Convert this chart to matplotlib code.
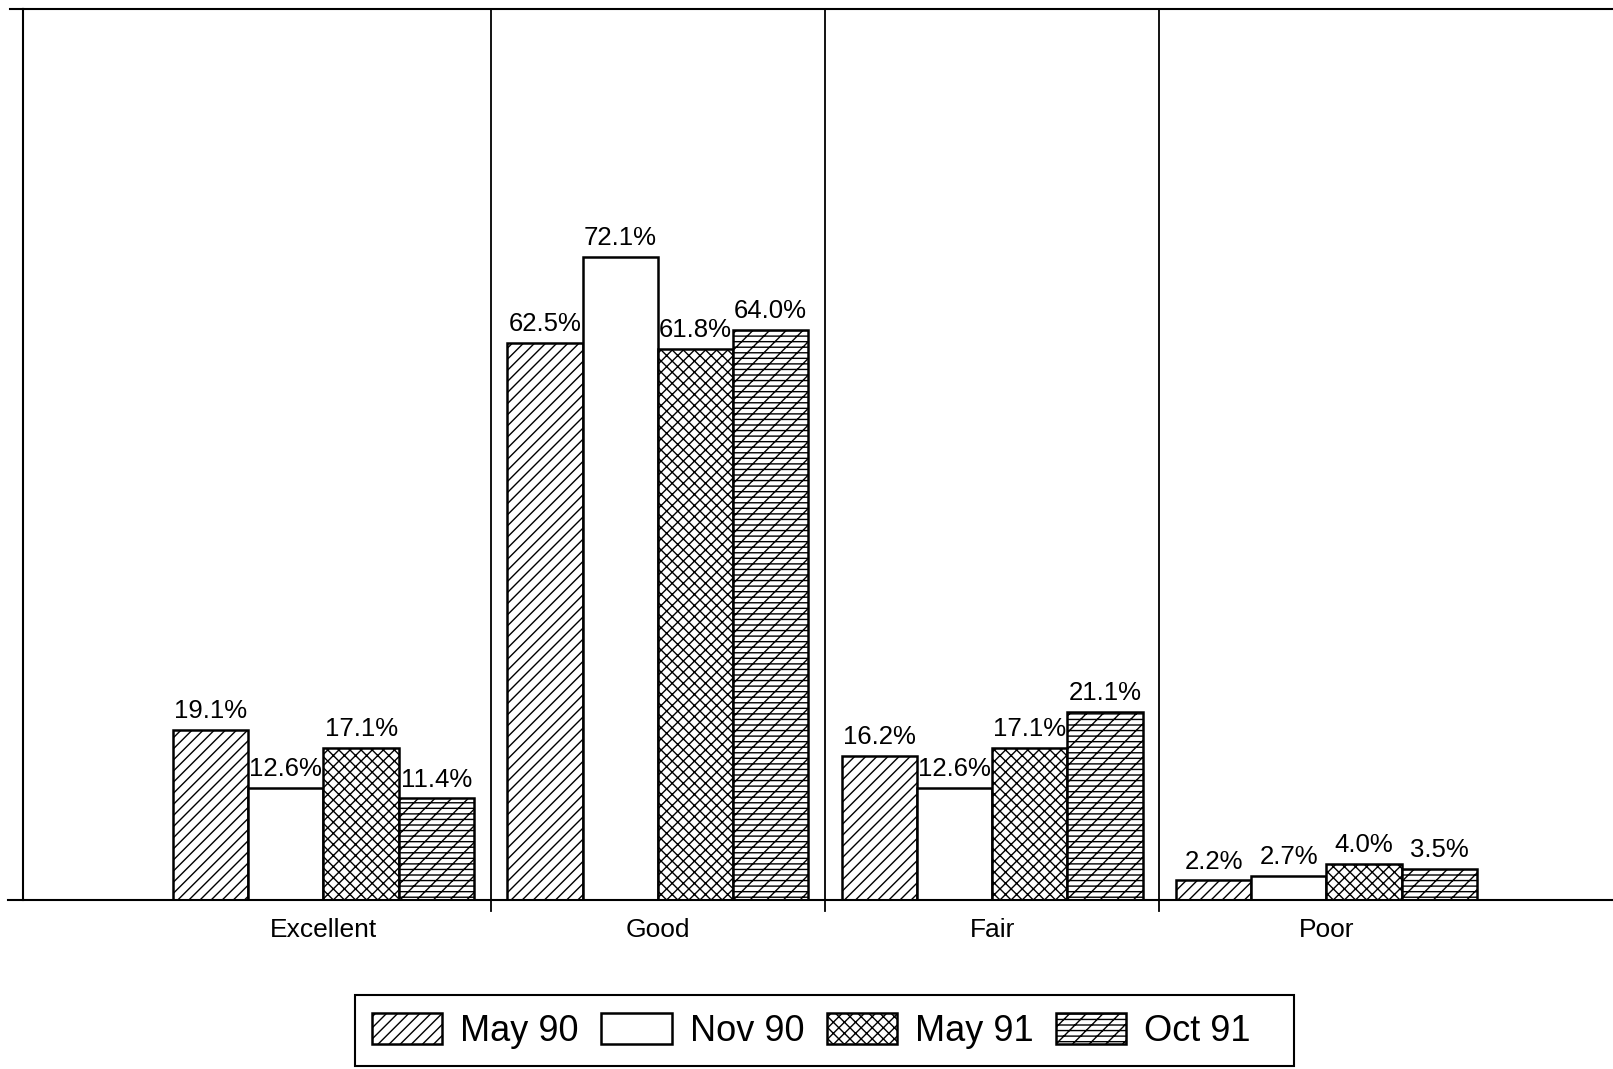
import matplotlib
matplotlib.use('Agg')
import matplotlib.pyplot as plt
from matplotlib.patches import Rectangle
import numpy as np

plt.rcParams['font.family'] = ['Liberation Sans', 'DejaVu Sans']
plt.rcParams['hatch.linewidth'] = 1.0

categories = ['Excellent', 'Good', 'Fair', 'Poor']
series_names = ['May 90', 'Nov 90', 'May 91', 'Oct 91']
may90 = [19.1, 62.5, 16.2, 2.2]
nov90 = [12.6, 72.1, 12.6, 2.7]
may91 = [17.1, 61.8, 17.1, 4.0]
oct91 = [11.4, 64.0, 21.1, 3.5]
series_values = [may90, nov90, may91, oct91]
hatches = ['///', '', 'xxx', '//---']

fig = plt.figure(figsize=(16.13, 10.69), dpi=100)
ax = fig.add_axes([0.014, 0.158, 0.986, 0.834])

x = np.arange(len(categories))
width = 0.225
for j, (name, vals, h) in enumerate(zip(series_names, series_values, hatches)):
    pos = x + (j - 1.5) * width
    bars = ax.bar(pos, vals, width, color='white', edgecolor='black',
                  linewidth=1.8, hatch=h, label=name)
    for b, v in zip(bars, vals):
        ax.annotate('{0:.1f}%'.format(v), (b.get_x() + b.get_width() / 2, v),
                    xytext=(0, 5), textcoords='offset points',
                    ha='center', va='bottom', fontsize=18.5)

# category dividers, running a little below the baseline
for d in x[:-1] + 0.5:
    ax.axvline(d, ymin=-0.012, ymax=1, color='black', linewidth=1.3, clip_on=False)

ax.set_xlim(-0.9, 3.857)
ax.set_ylim(0, 100)
ax.set_yticks([])
ax.set_xticks(x)
ax.set_xticklabels(categories, fontsize=19)
ax.tick_params(axis='x', length=0, pad=13)

for side in ['right', 'bottom']:
    ax.spines[side].set_visible(False)
ax.spines['left'].set_linewidth(1.5)
ax.spines['top'].set_linewidth(1.5)
ax.plot([-0.009, 1], [0, 0], transform=ax.transAxes, color='black',
        linewidth=1.5, clip_on=False)
ax.plot([-0.008, 0], [1, 1], transform=ax.transAxes, color='black',
        linewidth=1.5, clip_on=False)

# legend box drawn separately so it keeps the wide frame of the original
fig.patches.append(Rectangle((0.220, 0.003), 0.582, 0.066, transform=fig.transFigure,
                             facecolor='white', edgecolor='black', linewidth=1.5))
leg = fig.legend(loc='center left', bbox_to_anchor=(0.2305, 0.036),
                 ncol=4, fontsize=26, frameon=False,
                 handlelength=1.95, handleheight=0.95,
                 handletextpad=0.5, columnspacing=0.62, borderpad=0,
                 borderaxespad=0)

fig.savefig('out.png', dpi=100)
